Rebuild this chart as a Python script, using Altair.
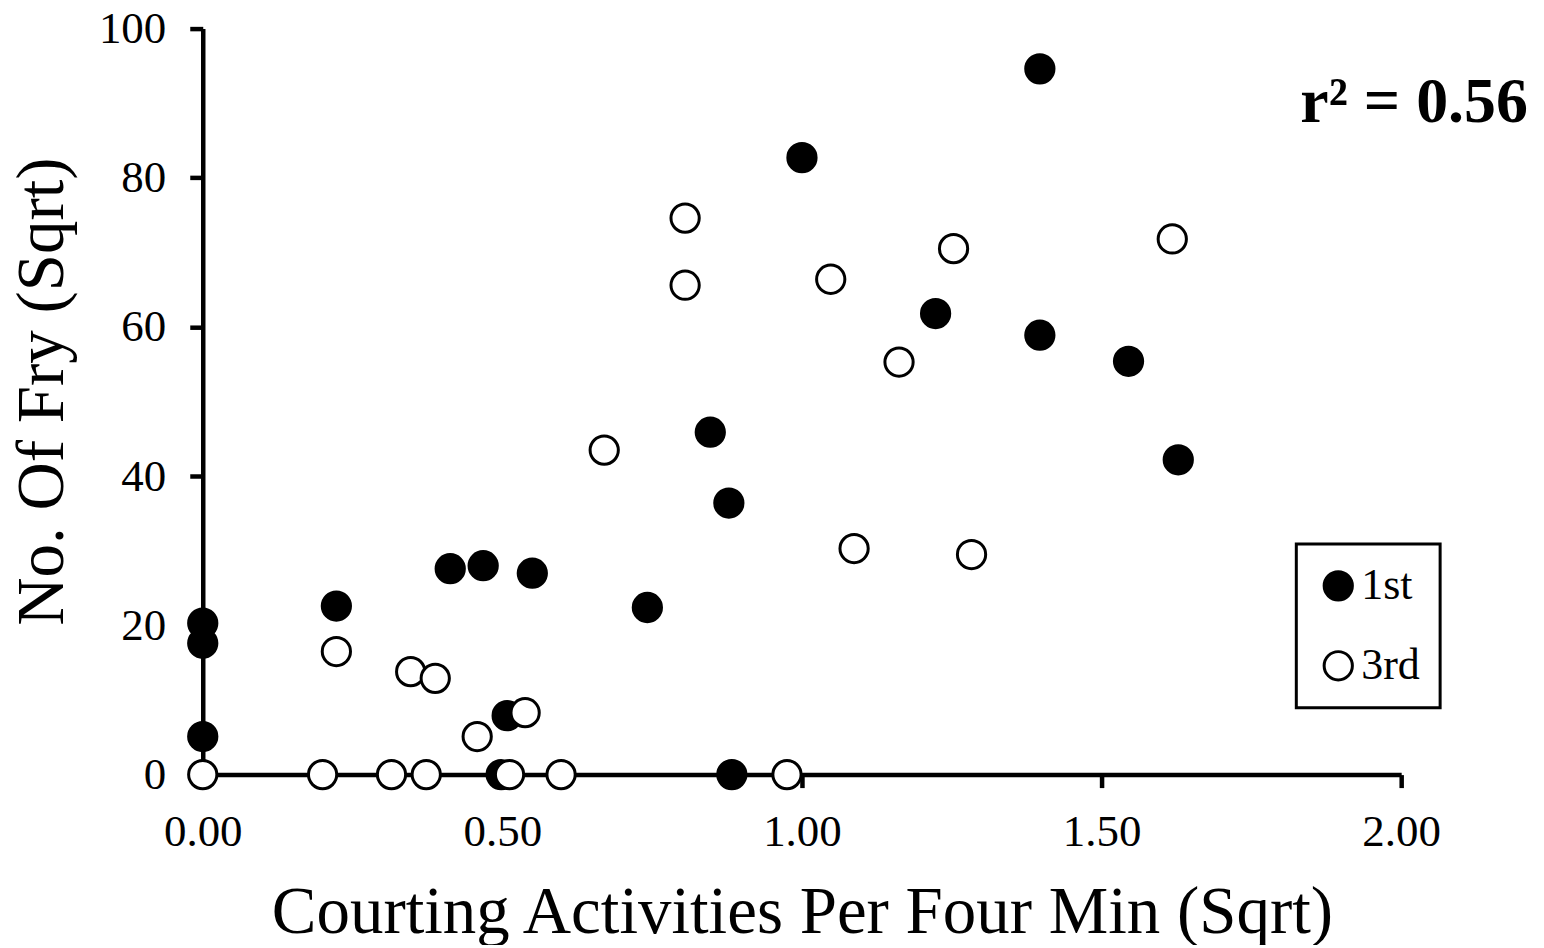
import altair as alt
import pandas as pd

# Series "1st" (filled circles)
first_x = [0.00, 0.00, 0.00, 0.223, 0.413, 0.468, 0.550, 0.742, 0.508, 0.498,
           0.883, 0.847, 0.878, 1.000, 1.223, 1.397, 1.397, 1.545, 1.628]
first_y = [20.3, 17.6, 5.1, 22.6, 27.6, 28.0, 27.0, 22.4, 7.9, 0.0,
           0.0, 45.9, 36.4, 82.7, 61.8, 94.6, 58.9, 55.4, 42.2]

# Series "3rd" (open circles)
third_x = [0.00, 0.200, 0.315, 0.373, 0.512, 0.598, 0.975, 0.223, 0.347, 0.388,
           0.458, 0.538, 0.670, 0.805, 0.805, 1.048, 1.087, 1.162, 1.253, 1.283, 1.618]
third_y = [0.0, 0.0, 0.0, 0.0, 0.0, 0.0, 0.0, 16.5, 13.8, 12.9,
           5.1, 8.3, 43.5, 74.6, 65.6, 66.4, 30.3, 55.3, 70.5, 29.5, 71.8]

series_names = ["1st", "3rd"]
x_ticks = [0.0, 0.5, 1.0, 1.5, 2.0]
y_ticks = [0, 20, 40, 60, 80, 100]
annotation = ["r² = 0.56"]

rows = []
for x, y in zip(first_x, first_y):
    rows.append({"x": x, "y": y, "series": series_names[0]})
for x, y in zip(third_x, third_y):
    rows.append({"x": x, "y": y, "series": series_names[1]})
df = pd.DataFrame(rows)

FONT = "Liberation Serif"

points = alt.Chart(df).mark_point(
    filled=True, shape="circle", size=800, stroke="black", strokeWidth=3, opacity=1
).encode(
    x=alt.X("x:Q", scale=alt.Scale(domain=[0, 2], nice=False),
            axis=alt.Axis(values=x_ticks, format=".2f", labelFlush=False,
                          title="Courting Activities Per Four Min (Sqrt)",
                          titleX=600, titleY=158, titleAlign="center",
                          titleBaseline="alphabetic", labelPadding=22)),
    y=alt.Y("y:Q", scale=alt.Scale(domain=[0, 100], nice=False),
            axis=alt.Axis(values=y_ticks, format="d", labelFlush=False,
                          title="No. Of Fry (Sqrt)",
                          titleX=-140, titleY=363, titleAlign="center",
                          titleBaseline="alphabetic", titleAngle=270,
                          labelPadding=24)),
    fill=alt.Fill("series:N",
                  scale=alt.Scale(domain=series_names, range=["black", "white"]),
                  legend=alt.Legend(title=None, orient="none", legendX=1095, legendY=516,
                                    strokeColor="black", padding=20,
                                    symbolType="circle", symbolSize=800,
                                    symbolStrokeColor="black", symbolStrokeWidth=3,
                                    labelFont=FONT, labelFontSize=44, labelColor="black",
                                    labelOffset=1, rowPadding=36)),
)

text = alt.Chart(pd.DataFrame({"label": annotation})).mark_text(
    font=FONT, fontSize=64, fontWeight="bold", align="right", baseline="alphabetic",
    color="black"
).encode(
    text="label:N",
    x=alt.value(1327),
    y=alt.value(94),
)

chart = alt.layer(points, text).properties(
    width=1200, height=747,
    autosize=alt.AutoSizeParams(type="none"),
    padding={"left": 195, "top": 20, "right": 135, "bottom": 170},
).configure_view(
    stroke=None
).configure_axis(
    grid=False,
    domainColor="black", domainWidth=4.5,
    tickColor="black", tickWidth=4.5, tickSize=13,
    labelFont=FONT, labelFontSize=45, labelColor="black",
    titleFont=FONT, titleFontSize=67, titleFontWeight="normal", titleColor="black",
).configure_legend(
    strokeWidth=3
)

chart.save("out.html", embed_options={"renderer": "svg", "actions": False})
